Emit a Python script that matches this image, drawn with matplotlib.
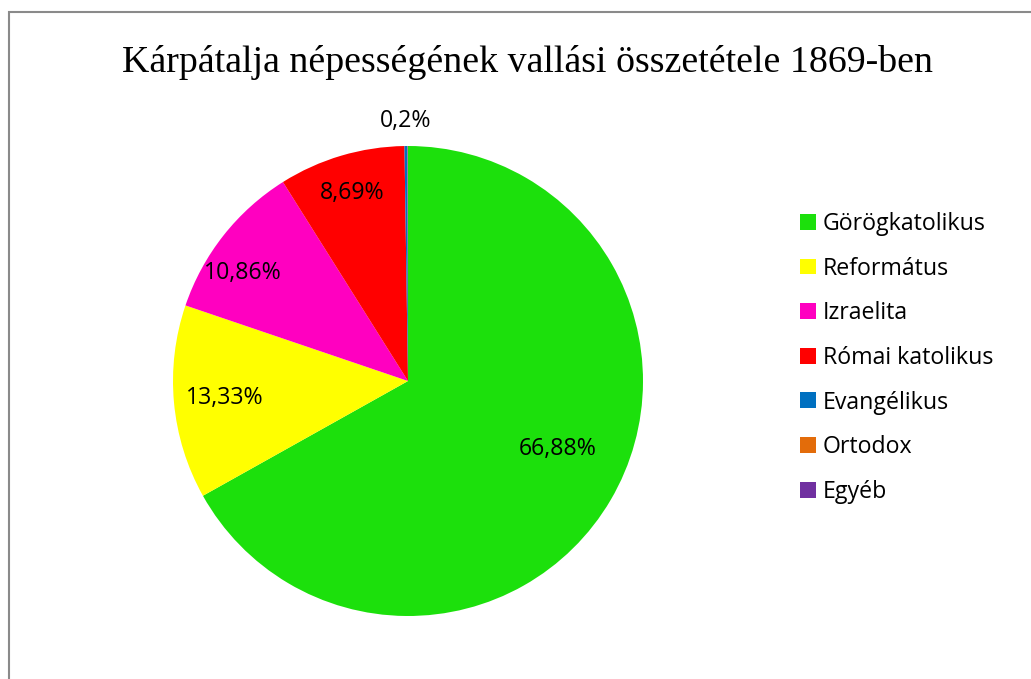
import numpy as np
import matplotlib
matplotlib.use("Agg")
import matplotlib.pyplot as plt
from matplotlib.patches import Patch, Rectangle

# data
categories = ["Görögkatolikus", "Református", "Izraelita", "Római katolikus",
              "Evangélikus", "Ortodox", "Egyéb"]
shares = [66.88, 13.33, 10.86, 8.69, 0.2, 0.02, 0.02]
labels = ["66,88%", "13,33%", "10,86%", "8,69%", "0,2%", "", ""]
colors = ["#1ce00c", "#ffff00", "#ff00c0", "#ff0000", "#0070c0", "#e36c0a", "#7030a0"]

# label placement (radius fraction, angle shift in degrees)
label_r = [0.70, 0.785, 0.84, 0.835, 1.105, 0, 0]
label_shift = [6, 0, 5, 0, 0, 0, 0]

W, H = 1031, 679
fig = plt.figure(figsize=(W / 100, H / 100), dpi=100)

# outer chart frame (runs off the right and bottom edge)
fig.patches.append(Rectangle((8.5 / W, -0.1), 1.2, 1.1 - 12.5 / H,
                             transform=fig.transFigure, fill=False,
                             edgecolor="#8a8a8a", linewidth=1.5))

fig.text(528 / W, 1 - 63 / H, "Kárpátalja népességének vallási összetétele 1869-ben",
         family="Liberation Serif", fontsize=27.3, ha="center", va="center")

cx, cy, r = 408, 381, 235
ax = fig.add_axes([(cx - r) / W, (H - cy - r) / H, 2 * r / W, 2 * r / H])
wedges, _ = ax.pie(shares, colors=colors, startangle=90, counterclock=False,
                   radius=1, wedgeprops=dict(linewidth=0))
ax.set_xlim(-1, 1)
ax.set_ylim(-1, 1)
ax.set_aspect("equal")
ax.axis("off")

for w, lab, rr, sh in zip(wedges, labels, label_r, label_shift):
    if not lab:
        continue
    ang = np.deg2rad((w.theta1 + w.theta2) / 2 + sh)
    ax.text(rr * np.cos(ang), rr * np.sin(ang), lab, ha="center", va="center",
            family="Open Sans", fontsize=16.7, clip_on=False)

handles = [Patch(facecolor=c, edgecolor="none") for c in colors]
fig.legend(handles, categories, loc="upper left", bbox_to_anchor=(800 / W, 1 - 212 / H),
           frameon=False, prop=dict(family="Open Sans", size=16.7),
           handlelength=0.68, handleheight=0.68, handletextpad=0.3,
           labelspacing=0.89, borderaxespad=0, borderpad=0)

fig.savefig("out.png", dpi=100)
